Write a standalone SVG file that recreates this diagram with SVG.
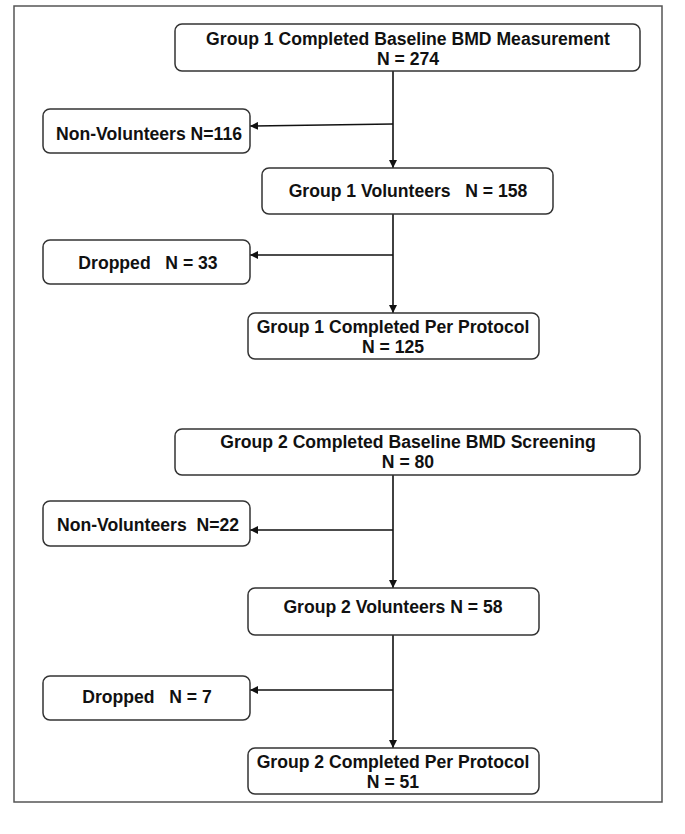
<svg xmlns="http://www.w3.org/2000/svg" width="685" height="834" viewBox="0 0 685 834">
<style>
.bg{fill:#ffffff}
.frame{fill:none;stroke:#555;stroke-width:1.5}
.box{fill:#ffffff;stroke:#333;stroke-width:1.5}
.lbl{font-family:"Liberation Sans",Arial,sans-serif;font-weight:bold;font-size:17.6px;fill:#111;text-anchor:middle;white-space:pre}
.conn{fill:none;stroke:#111;stroke-width:1.6}
</style>
<defs>
<marker id="ah" viewBox="0 0 10 10" refX="10" refY="5" markerWidth="8" markerHeight="8" markerUnits="userSpaceOnUse" orient="auto">
<path d="M0,0 L10,5 L0,10 z" fill="#111"/>
</marker>
</defs>
<rect class="bg" x="0" y="0" width="685" height="834"/>
<rect class="frame" x="14" y="6" width="648" height="796"/>
<g id="connectors">
<line class="conn" x1="393" y1="66" x2="393" y2="168" marker-end="url(#ah)"/>
<line class="conn" x1="393" y1="124" x2="250" y2="126" marker-end="url(#ah)"/>
<line class="conn" x1="393" y1="210" x2="393" y2="313" marker-end="url(#ah)"/>
<line class="conn" x1="393" y1="255" x2="250" y2="255" marker-end="url(#ah)"/>
<line class="conn" x1="393" y1="475" x2="393" y2="588" marker-end="url(#ah)"/>
<line class="conn" x1="393" y1="530" x2="250" y2="530" marker-end="url(#ah)"/>
<line class="conn" x1="393" y1="635" x2="393" y2="748" marker-end="url(#ah)"/>
<line class="conn" x1="393" y1="690" x2="250" y2="690" marker-end="url(#ah)"/>
</g>
<g id="g1-baseline">
<rect class="box" x="175" y="24" width="465" height="47" rx="7"/>
<text class="lbl" x="408" y="45">Group 1 Completed Baseline BMD Measurement</text>
<text class="lbl" x="408" y="65">N = 274</text>
</g>
<g id="g1-nonvol">
<rect class="box" x="43" y="109" width="207" height="44" rx="7"/>
<text class="lbl" x="149" y="140">Non-Volunteers N=116</text>
</g>
<g id="g1-vol">
<rect class="box" x="262" y="168" width="291" height="46" rx="7"/>
<text class="lbl" x="408" y="197">Group 1 Volunteers   N = 158</text>
</g>
<g id="g1-dropped">
<rect class="box" x="43" y="240" width="207" height="44" rx="7"/>
<text class="lbl" x="148" y="269">Dropped   N = 33</text>
</g>
<g id="g1-completed">
<rect class="box" x="248" y="313" width="291" height="46" rx="7"/>
<text class="lbl" x="393" y="333">Group 1 Completed Per Protocol</text>
<text class="lbl" x="393" y="353">N = 125</text>
</g>
<g id="g2-baseline">
<rect class="box" x="175" y="429" width="465" height="46" rx="7"/>
<text class="lbl" x="408" y="448">Group 2 Completed Baseline BMD Screening</text>
<text class="lbl" x="408" y="468">N = 80</text>
</g>
<g id="g2-nonvol">
<rect class="box" x="43" y="501" width="207" height="45" rx="7"/>
<text class="lbl" x="148" y="531">Non-Volunteers  N=22</text>
</g>
<g id="g2-vol">
<rect class="box" x="248" y="588" width="291" height="47" rx="7"/>
<text class="lbl" x="393" y="613">Group 2 Volunteers N = 58</text>
</g>
<g id="g2-dropped">
<rect class="box" x="43" y="676" width="207" height="44" rx="7"/>
<text class="lbl" x="147" y="703">Dropped   N = 7</text>
</g>
<g id="g2-completed">
<rect class="box" x="248" y="748" width="291" height="46" rx="7"/>
<text class="lbl" x="393" y="768">Group 2 Completed Per Protocol</text>
<text class="lbl" x="393" y="788">N = 51</text>
</g>
</svg>
